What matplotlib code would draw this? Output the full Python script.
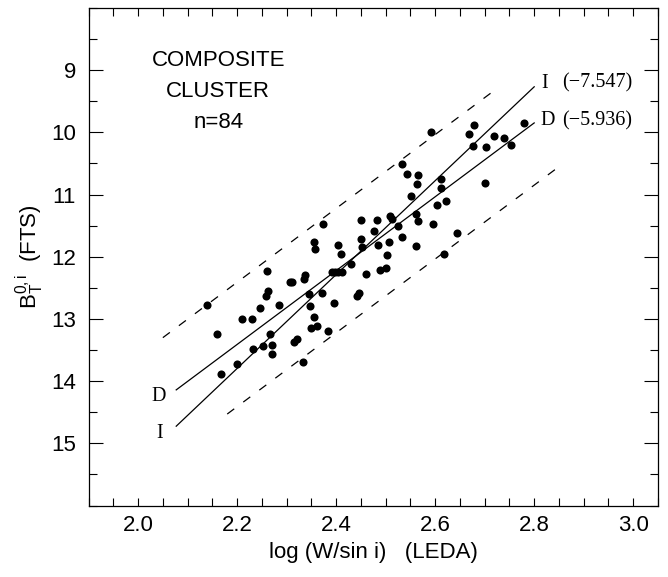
import matplotlib
matplotlib.use("Agg")
import matplotlib.pyplot as plt
from matplotlib.ticker import MultipleLocator, FixedLocator, FormatStrFormatter
import numpy as np

plt.rcParams["font.family"] = ["Liberation Sans", "DejaVu Sans"]
plt.rcParams["mathtext.fontset"] = "custom"
plt.rcParams["mathtext.rm"] = "Liberation Sans"
plt.rcParams["mathtext.it"] = "Liberation Sans"

# log (W/sin i) and B_T^{0,i} for the composite cluster sample
LOG_W = [2.139, 2.160, 2.210, 2.230, 2.247, 2.260, 2.263, 2.259, 2.284, 2.307,
         2.311, 2.335, 2.337, 2.267, 2.253, 2.270, 2.270, 2.232, 2.200, 2.168,
         2.314, 2.321, 2.334, 2.345, 2.348, 2.355, 2.349, 2.361, 2.384, 2.372,
         2.395, 2.392, 2.403, 2.412, 2.397, 2.429, 2.443, 2.447, 2.461, 2.488,
         2.500, 2.502, 2.507, 2.484, 2.451, 2.452, 2.404, 2.410, 2.356, 2.358,
         2.374, 2.450, 2.482, 2.476, 2.509, 2.512, 2.524, 2.534, 2.562, 2.618,
         2.645, 2.596, 2.565, 2.562, 2.551, 2.603, 2.622, 2.532, 2.543, 2.565,
         2.563, 2.612, 2.612, 2.700, 2.591, 2.679, 2.669, 2.718, 2.740, 2.753,
         2.676, 2.702, 2.780]
B_T = [12.77, 13.25, 13.00, 13.00, 12.82, 12.23, 12.55, 12.63, 12.78, 12.41,
       12.40, 12.36, 12.29, 13.24, 13.44, 13.42, 13.57, 13.48, 13.72, 13.89,
       13.37, 13.33, 13.69, 12.60, 12.80, 12.97, 13.15, 13.11, 13.19, 12.59,
       12.74, 12.25, 12.24, 12.24, 12.25, 12.11, 12.63, 12.58, 12.28, 12.22,
       12.18, 11.97, 11.76, 11.81, 11.72, 11.84, 11.81, 11.95, 11.77, 11.87,
       11.47, 11.41, 11.41, 11.59, 11.35, 11.39, 11.50, 11.69, 11.82, 11.96,
       11.62, 11.47, 11.43, 11.31, 11.02, 11.17, 11.11, 10.51, 10.67, 10.69,
       10.83, 10.75, 10.89, 10.81, 9.99, 9.89, 10.03, 10.06, 10.09, 10.21,
       10.22, 10.24, 9.85]

# fits: inverse (I) and direct (D)
SLOPE_I = -7.547
SLOPE_D = -5.936
ZERO_I = 30.40
ZERO_D = 26.47
FIT_RANGE = [2.077, 2.80]
SCATTER = 1.0
UPPER_RANGE = [2.05, 2.72]
LOWER_RANGE = [2.18, 2.85]

Y_TICKS = [9, 10, 11, 12, 13, 14, 15]
INFO_LINES = ["COMPOSITE", "CLUSTER", "n=84"]


def fit_line(slope, zero, xs):
    xs = np.array(xs)
    return xs, slope * xs + zero


fig = plt.figure(figsize=(6.68, 5.77), dpi=100)
ax = fig.add_axes([0.1326, 0.1239, 0.8524, 0.8624])

ax.scatter(LOG_W, B_T, s=34, color="black", linewidths=0, zorder=3)

x, y = fit_line(SLOPE_I, ZERO_I, FIT_RANGE)
ax.plot(x, y, color="black", lw=0.9)
x, y = fit_line(SLOPE_D, ZERO_D, FIT_RANGE)
ax.plot(x, y, color="black", lw=0.9)

x, y = fit_line(SLOPE_D, ZERO_D - SCATTER, UPPER_RANGE)
ax.plot(x, y, color="black", lw=0.9, linestyle=(0, (7, 9)))
x, y = fit_line(SLOPE_D, ZERO_D + SCATTER, LOWER_RANGE)
ax.plot(x, y, color="black", lw=0.9, linestyle=(0, (7, 9)))

serif = ["Liberation Serif", "DejaVu Serif"]
ax.text(2.815, 9.21, "I", family=serif, fontsize=14.5, va="center", ha="left")
ax.text(2.856, 9.21, "(\u22127.547)", family=serif, fontsize=14.5, va="center", ha="left")
ax.text(2.812, 9.81, "D", family=serif, fontsize=14.5, va="center", ha="left")
ax.text(2.856, 9.81, "(\u22125.936)", family=serif, fontsize=14.5, va="center", ha="left")
ax.text(2.041, 14.25, "D", family=serif, fontsize=14.5, va="center", ha="center")
ax.text(2.043, 14.84, "I", family=serif, fontsize=14.5, va="center", ha="center")

for i, line in enumerate(INFO_LINES):
    ax.text(2.162, 8.84 + 0.5 * i, line, fontsize=16, ha="center", va="center")

ax.set_xlim(1.9, 3.05)
ax.set_ylim(16, 8)
ax.xaxis.set_major_locator(MultipleLocator(0.2))
ax.xaxis.set_minor_locator(MultipleLocator(0.05))
ax.yaxis.set_major_locator(FixedLocator(Y_TICKS))
ax.yaxis.set_minor_locator(MultipleLocator(0.5))
ax.xaxis.set_major_formatter(FormatStrFormatter("%.1f"))

ax.tick_params(which="both", direction="in", top=True, right=True, width=0.8,
               labelsize=16)
ax.tick_params(axis="x", which="both", length=6, pad=7)
ax.tick_params(axis="y", which="major", length=10, pad=9)
ax.tick_params(axis="y", which="minor", length=6)
for sp in ax.spines.values():
    sp.set_linewidth(0.9)

ax.set_xlabel("log (W/sin i)   (LEDA)", fontsize=16, labelpad=4)
ax.set_ylabel(r"$\mathrm{B_T^{0,i}}$  (FTS)", fontsize=16)
ax.yaxis.set_label_coords(-0.075, 0.5)

fig.savefig("out.png", dpi=100)
